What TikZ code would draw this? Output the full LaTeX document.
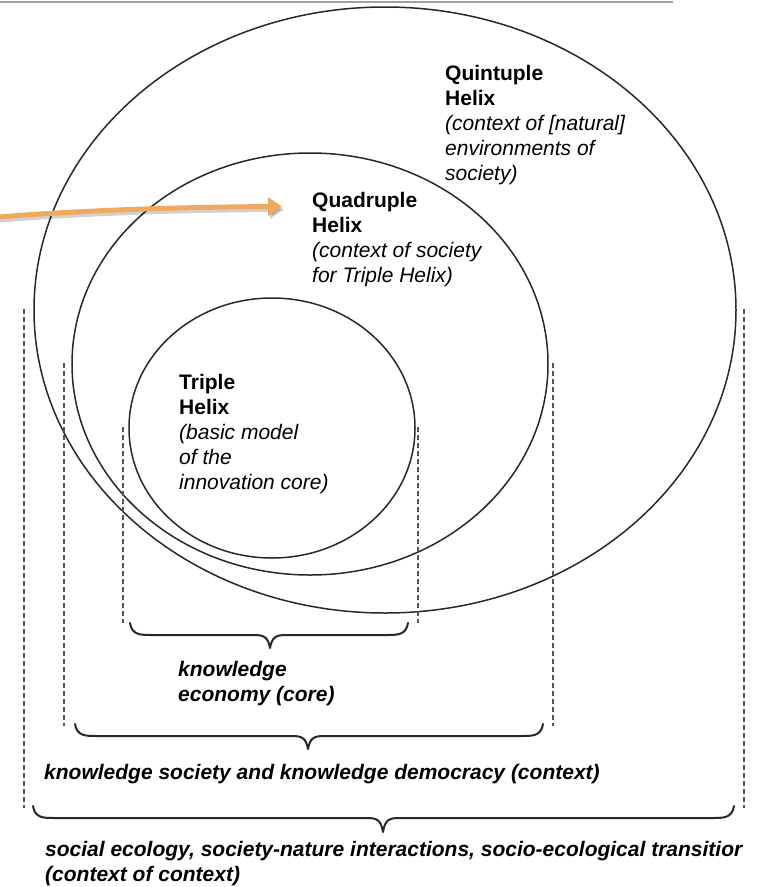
\documentclass[tikz,border=0pt]{standalone}
\usepackage{fontspec}
\setmainfont{Liberation Sans}
\usetikzlibrary{arrows.meta,calc}
\definecolor{arroworange}{RGB}{240,170,95}
\definecolor{ringline}{RGB}{40,40,40}
\definecolor{dashgray}{RGB}{85,85,85}
\tikzset{
  ring/.style={draw=ringline, line width=1.5pt},
  guide/.style={draw=dashgray, line width=1.2pt, dash pattern=on 5pt off 3pt},
  bracestroke/.style={draw=ringline, line width=2pt, line join=round, line cap=round},
  helixlabel/.style={anchor=north west, inner sep=0pt, align=left, font=\fontsize{21}{25}\selectfont},
  bottomlabel/.style={anchor=north west, inner sep=0pt, align=left, font=\fontsize{21}{25}\selectfont\bfseries\itshape},
  orangearrow/.style={draw=arroworange, line width=5pt, -{Triangle[length=14pt,width=18pt]}},
  arrowshadow/.style={draw=black, opacity=0.18, line width=5pt, -{Triangle[length=14pt,width=18pt]}}
}
\newcommand{\curlybrace}[6]{%
  % #1 left x, #2 right x, #3 tip x, #4 end y, #5 line y, #6 tip y
  \draw[bracestroke] (#1,#4) .. controls (#1+2,#5) and (#1+10,#5) .. (#1+22,#5)
    -- (#3-16,#5) .. controls (#3-6,#5) and (#3-2,#5+2) .. (#3,#6)
    .. controls (#3+2,#5+2) and (#3+6,#5) .. (#3+16,#5)
    -- (#2-22,#5) .. controls (#2-10,#5) and (#2-2,#5) .. (#2,#4);}
\begin{document}
\begin{tikzpicture}[x=1pt,y=-1pt]
\useasboundingbox (0,0) rectangle (770,887);
\clip (0,0) rectangle (770,887);
\fill[white] (0,0) rectangle (770,887);

% top rule
\coordinate (ruleL) at (0,1.5);
\coordinate (ruleR) at (673,1.5);
\draw[draw={rgb,255:red,160;green,160;blue,160}, line width=2pt] (ruleL) -- (ruleR);

% ellipses
\coordinate (c5) at (385,310);
\coordinate (c4) at (310,364);
\coordinate (c3) at (272,428);
\draw[ring] (c5) ellipse [x radius=351pt, y radius=303pt];
\draw[ring] (c4) ellipse [x radius=238pt, y radius=211pt];
\draw[ring] (c3) ellipse [x radius=143pt, y radius=130pt];

% labels
\node[helixlabel] (q5) at (445,65.5) {\textbf{Quintuple}\\\textbf{Helix}\\\textit{(context of [natural]}\\\textit{environments of}\\\textit{society)}};
\node[helixlabel] (q4) at (312,192.5) {\textbf{Quadruple}\\\textbf{Helix}\\\textit{(context of society}\\\textit{for Triple Helix)}};
\node[helixlabel] (q3) at (179,374.5) {\textbf{Triple}\\\textbf{Helix}\\\textit{(basic model}\\\textit{of the}\\\textit{innovation core)}};

% arrow
\coordinate (arrS) at (-2,217);
\coordinate (arrE) at ($(q4.north west)+(-30,14)$);
\coordinate (arrSs) at (0,220);
\coordinate (arrEs) at ($(arrE)+(2,3)$);
\draw[arrowshadow] (arrSs) .. controls (100,212) and (200,210) .. (arrEs);
\draw[orangearrow] (arrS) .. controls (100,209) and (200,207) .. (arrE);

% dashed guides
\coordinate (g3Lt) at (123,427); \coordinate (g3Lb) at (123,623);
\coordinate (g3Rt) at (418,427); \coordinate (g3Rb) at (418,623);
\coordinate (g4Lt) at (64,363);  \coordinate (g4Lb) at (64,726);
\coordinate (g4Rt) at (553,363); \coordinate (g4Rb) at (553,726);
\coordinate (g5Lt) at (24,309);  \coordinate (g5Lb) at (24,808);
\coordinate (g5Rt) at (744,309); \coordinate (g5Rb) at (744,808);
\draw[guide] (g3Lt) -- (g3Lb);
\draw[guide] (g3Rt) -- (g3Rb);
\draw[guide] (g4Lt) -- (g4Lb);
\draw[guide] (g4Rt) -- (g4Rb);
\draw[guide] (g5Lt) -- (g5Lb);
\draw[guide] (g5Rt) -- (g5Rb);

% braces
\curlybrace{130}{408}{270}{623}{635}{648}
\curlybrace{75}{543}{308}{724}{736}{749}
\curlybrace{33}{734}{383}{806}{818}{832}

% bottom labels
\node[bottomlabel] (core) at (178,661.5) {knowledge\\economy (core)};
\node[bottomlabel] (ctx) at (44,764) {knowledge society and knowledge democracy (context)};
\node[bottomlabel] (ctx2) at (45,841) {social ecology, society-nature interactions, socio-ecological transitior\\(context of context)};
\end{tikzpicture}
\end{document}
